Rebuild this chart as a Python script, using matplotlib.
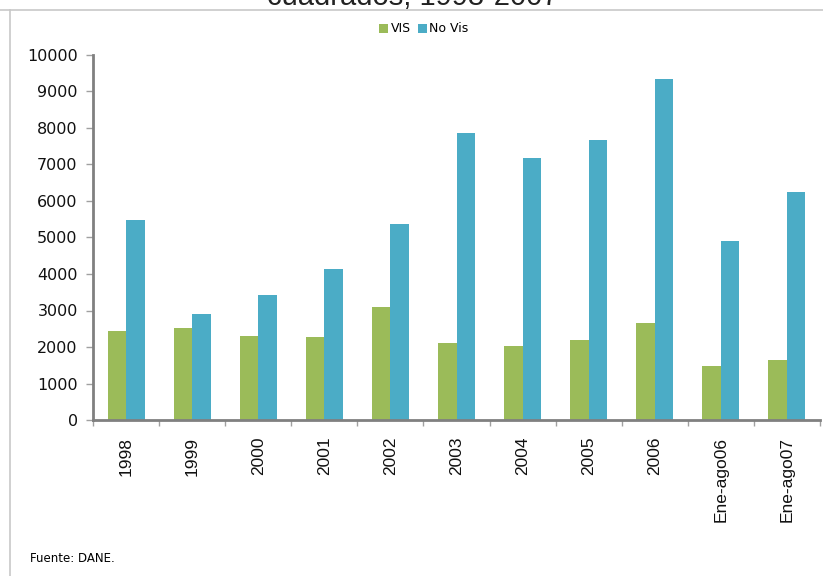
import matplotlib
matplotlib.use("Agg")
import matplotlib.pyplot as plt
import numpy as np
from matplotlib.lines import Line2D

categories = ["1998", "1999", "2000", "2001", "2002", "2003", "2004", "2005", "2006", "Ene-ago06", "Ene-ago07"]
vis = [2450, 2530, 2300, 2285, 3105, 2120, 2020, 2190, 2650, 1490, 1655]
novis = [5470, 2905, 3435, 4140, 5370, 7870, 7180, 7660, 9340, 4905, 6240]
yticks = [0, 1000, 2000, 3000, 4000, 5000, 6000, 7000, 8000, 9000, 10000]

W, H = 823, 576
fig = plt.figure(figsize=(W / 100, H / 100), dpi=100)
ax = fig.add_axes([93 / W, 1 - 420 / H, (820 - 93) / W, (420 - 55) / H])

x = np.arange(len(categories))
bw = 0.28
ax.bar(x - bw / 2, vis, bw, color="#9BBB59", label="VIS")
ax.bar(x + bw / 2, novis, bw, color="#4BACC6", label="No Vis")

ax.set_xlim(-0.5, len(categories) - 0.5)
ax.set_ylim(0, 10000)
ax.set_yticks(yticks)
ax.set_yticklabels([str(v) for v in yticks], fontsize=11.5, family="DejaVu Sans", color="#111111")
ax.tick_params(axis="y", length=5, width=1, color="#A0A0A0", pad=6, direction="out")

ax.set_xticks(x)
ax.set_xticklabels(categories, rotation=90, fontsize=12.5, family="Liberation Sans", va="top", ha="center",
                   color="#111111")
ax.tick_params(axis="x", which="major", length=0, pad=12)
ax.set_xticks(np.arange(len(categories) + 1) - 0.5, minor=True)
ax.tick_params(axis="x", which="minor", length=4, width=1, color="#A0A0A0", direction="out")

for s in ["top", "right"]:
    ax.spines[s].set_visible(False)
for s in ["left", "bottom"]:
    ax.spines[s].set_color("#808080")
    ax.spines[s].set_linewidth(2)

leg = fig.legend(loc="center", bbox_to_anchor=(424 / W, 1 - 29 / H), ncol=2, frameon=False,
                 prop={"family": "DejaVu Sans", "size": 9},
                 handlelength=0.7, handleheight=0.7, handletextpad=0.2, columnspacing=0.6)

# partially clipped title (cut off at the top edge as in the reference)
fig.text(413 / W, 1 - 5 / H, "cuadrados, 1998-2007", ha="center", va="baseline",
         fontsize=21, family="Liberation Sans", color="#222222")

# frame lines
fig.add_artist(Line2D([0, 1], [1 - 10 / H, 1 - 10 / H], transform=fig.transFigure, color="#C8C8C8", lw=1.2))
fig.add_artist(Line2D([10 / W, 10 / W], [0, 1 - 10 / H], transform=fig.transFigure, color="#C8C8C8", lw=1.2))

fig.text(30 / W, 1 - 558 / H, "Fuente: DANE.", ha="left", va="center", fontsize=8.5, family="DejaVu Sans")

fig.savefig("out.png", dpi=100)
